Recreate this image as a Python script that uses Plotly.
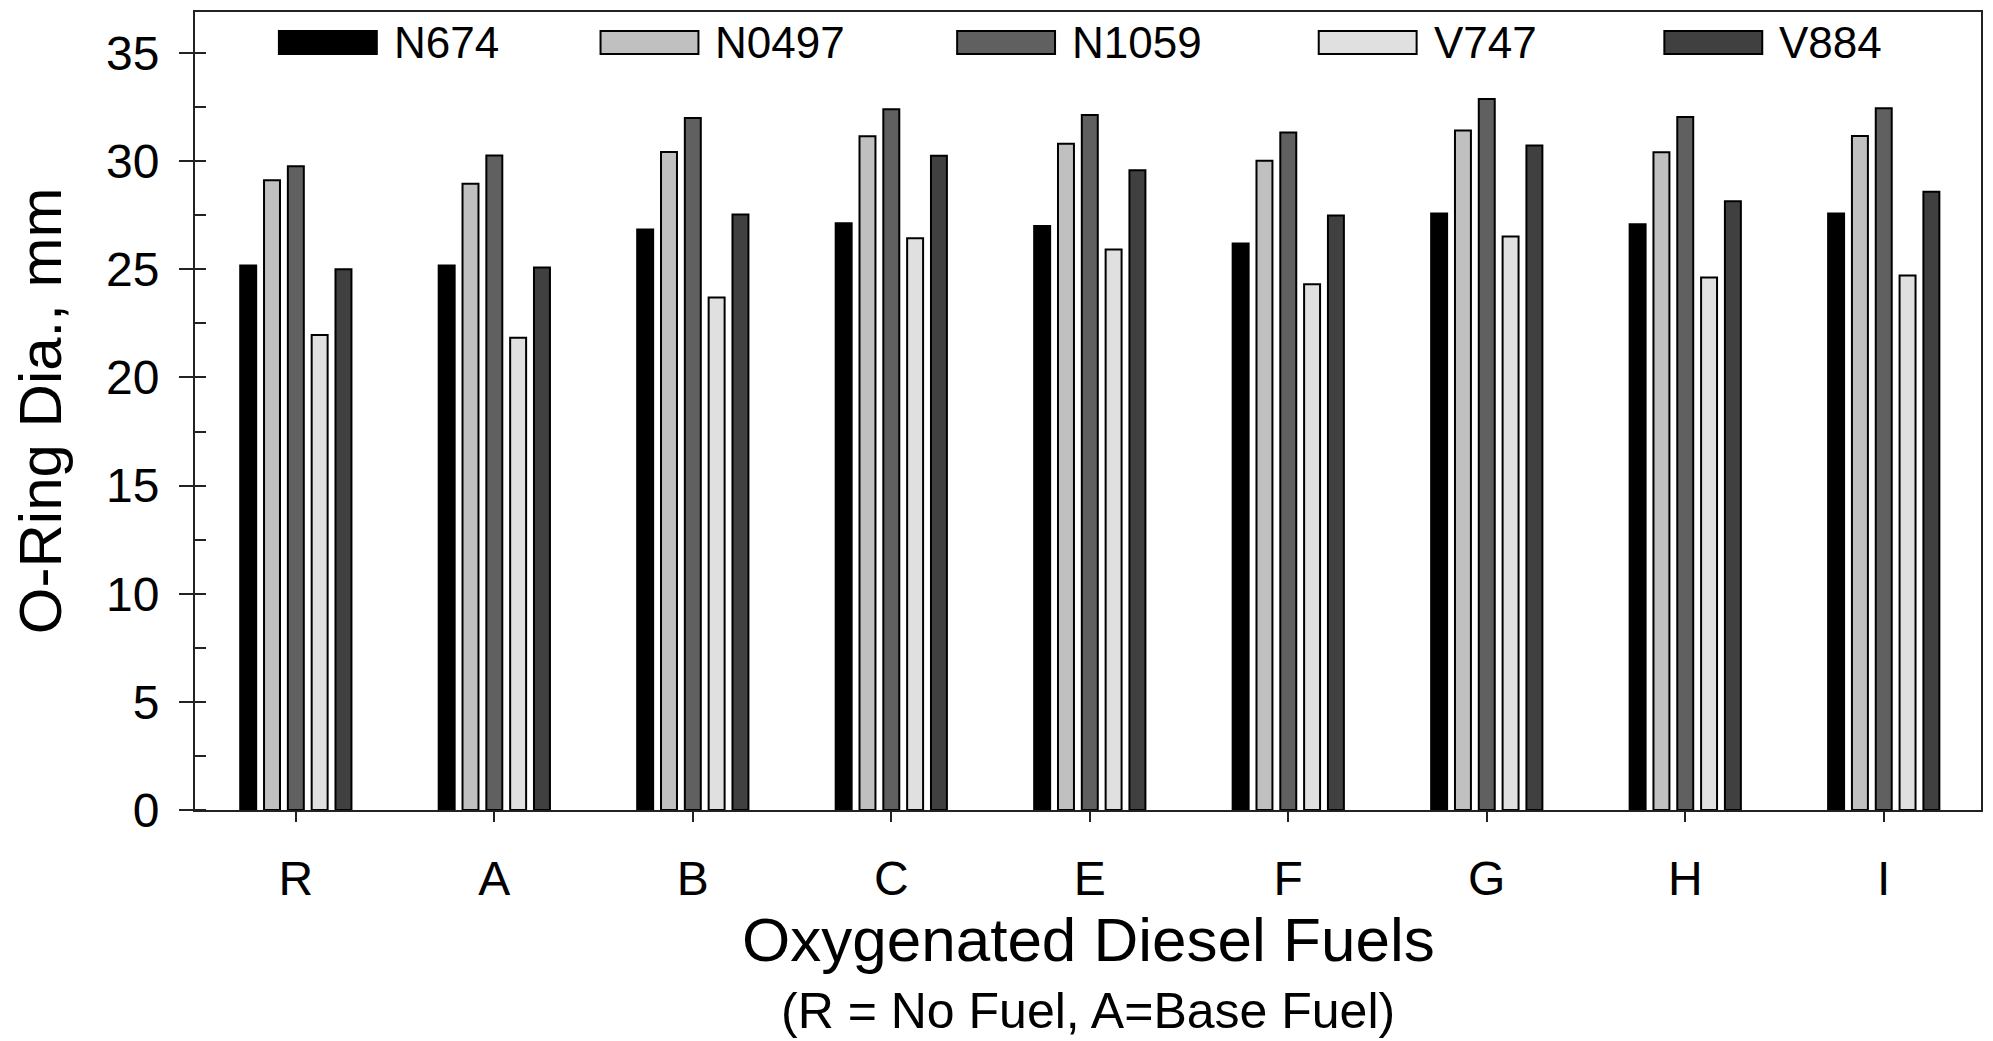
import plotly.graph_objects as go

# ---- data ----
fuels = ["R", "A", "B", "C", "E", "F", "G", "H", "I"]
series_names = ["N674", "N0497", "N1059", "V747", "V884"]
n674 = [25.18, 25.18, 26.84, 27.13, 27.01, 26.20, 27.58, 27.09, 27.58]
n0497 = [29.12, 28.96, 30.43, 31.15, 30.81, 30.02, 31.42, 30.41, 31.17]
n1059 = [29.77, 30.27, 32.00, 32.40, 32.14, 31.33, 32.88, 32.04, 32.45]
v747 = [21.96, 21.84, 23.70, 26.44, 25.92, 24.31, 26.52, 24.62, 24.71]
v884 = [25.01, 25.08, 27.54, 30.25, 29.58, 27.49, 30.73, 28.15, 28.59]
series_values = [n674, n0497, n1059, v747, v884]

# ---- styles ----
colors = ["#000000", "#c0c0c0", "#606060", "#e0e0e0", "#404040"]
FONT = "Liberation Sans, Arial, sans-serif"
W, H = 1993, 1041
ML, MR, MT, MB = 195, 10, 10, 231
PW, PH = W - ML - MR, H - MT - MB

def px2paper_x(px):
    return (px - ML) / PW

def px2paper_y(py):
    return (H - MB - py) / PH

fig = go.Figure()
for name, vals, col in zip(series_names, series_values, colors):
    fig.add_trace(go.Bar(
        x=fuels, y=vals, name=name,
        marker=dict(color=col, line=dict(color="#000000", width=2)),
        showlegend=False,
    ))

# manual legend (wide swatches like the original)
legend_box_left = [279, 601, 958, 1320, 1666]
box_w, box_top, box_bot = 98, 29, 52
shapes = []
annotations = []
for name, col, bx in zip(series_names, colors, legend_box_left):
    shapes.append(dict(
        type="rect", xref="paper", yref="paper",
        x0=px2paper_x(bx), x1=px2paper_x(bx + box_w),
        y0=px2paper_y(box_bot), y1=px2paper_y(box_top),
        fillcolor=col, line=dict(color="#000000", width=2), layer="above",
    ))
    annotations.append(dict(
        text=name, xref="paper", yref="paper",
        x=px2paper_x(bx + box_w + 15), y=px2paper_y(41),
        xanchor="left", yanchor="middle", showarrow=False,
        font=dict(family=FONT, size=44, color="#000000"),
    ))

annotations.append(dict(
    text="Oxygenated Diesel Fuels", xref="paper", yref="paper",
    x=0.5, y=px2paper_y(940), xanchor="center", yanchor="middle",
    showarrow=False, font=dict(family=FONT, size=62, color="#000000"),
))
annotations.append(dict(
    text="(R = No Fuel, A=Base Fuel)", xref="paper", yref="paper",
    x=0.5, y=px2paper_y(1012), xanchor="center", yanchor="middle",
    showarrow=False, font=dict(family=FONT, size=50, color="#000000"),
))
annotations.append(dict(
    text="O-Ring Dia., mm", xref="paper", yref="paper",
    x=px2paper_x(40), y=0.5, xanchor="center", yanchor="middle",
    textangle=-90, showarrow=False,
    font=dict(family=FONT, size=60, color="#000000"),
))

fig.update_layout(
    width=W, height=H,
    margin=dict(l=ML, r=MR, t=MT, b=MB, pad=0),
    paper_bgcolor="#ffffff", plot_bgcolor="#ffffff",
    barmode="group", bargap=0.4, bargroupgap=0.33,
    shapes=shapes, annotations=annotations,
    font=dict(family=FONT, color="#000000"),
    xaxis=dict(
        type="category", range=[-0.508, 8.49],
        showline=True, linecolor="#222222", linewidth=2, mirror=True,
        ticks="outside", ticklen=10, tickwidth=1.5, tickcolor="#222222",
        tickfont=dict(family=FONT, size=48, color="#000000"),
        ticklabelstandoff=15,
        showgrid=False, zeroline=False,
    ),
    yaxis=dict(
        range=[0, 36.9], tickmode="array",
        tickvals=[0, 5, 10, 15, 20, 25, 30, 35],
        ticktext=["0", "5", "10", "15", "20", "25", "30", "35"],
        showline=True, linecolor="#222222", linewidth=2, mirror=True,
        ticks="outside", ticklen=14, tickwidth=1.5, tickcolor="#222222",
        tickfont=dict(family=FONT, size=48, color="#000000"),
        ticklabelstandoff=10,
        minor=dict(ticks="inside", ticklen=11, tickwidth=1.5, tickcolor="#222222",
                   dtick=2.5, tick0=0, showgrid=False),
        showgrid=False, zeroline=False,
    ),
)

fig.write_html("out.html")
